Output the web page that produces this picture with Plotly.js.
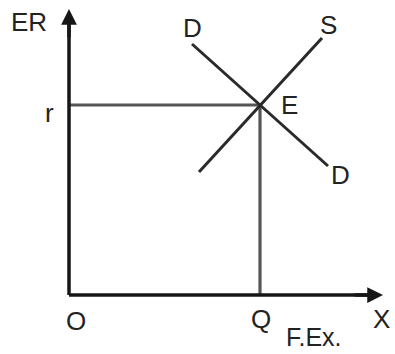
<!DOCTYPE html>
<html>
<head>
<meta charset="utf-8">
<script src="https://cdn.plot.ly/plotly-3.0.1.min.js"></script>
<style>
  html, body { margin: 0; padding: 0; background: #fff; }
  #tester { width: 395px; height: 354px; }
</style>
</head>
<body>
<div id="tester"></div>
<script>
// schematic units: origin O = (0,0)
let demandX = [123, 259];
let demandY = [251, 129];
let supplyX = [130, 253];
let supplyY = [123, 257];
let eqQ = 191;   // Q
let eqR = 190;   // r
let axisXEnd = 314;
let axisYEnd = 286;

let guideH = { x: [0, eqQ], y: [eqR, eqR] };
let guideV = { x: [eqQ, eqQ], y: [eqR, 0] };

let lineCol = "#2a2a2a";
let axisCol = "#161616";
let guideCol = "#555";
let txtFont = { family: "Liberation Sans, Arial, sans-serif", size: 26, color: "#222" };

var traces = [
    { x: guideH.x, y: guideH.y, mode: 'lines', line: { color: guideCol, width: 3.2 } },
    { x: guideV.x, y: guideV.y, mode: 'lines', line: { color: guideCol, width: 3.2 } },
    { x: demandX, y: demandY, mode: 'lines', line: { color: lineCol, width: 3 } },
    { x: supplyX, y: supplyY, mode: 'lines', line: { color: lineCol, width: 3 } },
    { x: [0, axisXEnd - 10], y: [0, 0], mode: 'lines', line: { color: axisCol, width: 3.5 } },
    { x: [0, 0], y: [0, axisYEnd - 10], mode: 'lines', line: { color: axisCol, width: 3.5 } }
];

function label(txt, x, y, size) {
    let f = Object.assign({}, txtFont);
    if (size) f.size = size;
    return { text: txt, x: x, y: y, xref: 'x', yref: 'y', showarrow: false, borderpad: 0, font: f };
}

function head(x, y, ax, ay) {
    return {
        x: x, y: y, ax: ax, ay: ay, xref: 'x', yref: 'y', axref: 'x', ayref: 'y',
        text: '', showarrow: true, arrowhead: 2, arrowsize: 0.9, arrowwidth: 3.5, arrowcolor: axisCol
    };
}

var layout = {
    width: 395,
    height: 354,
    margin: { l: 0, r: 0, t: 0, b: 0, pad: 0 },
    paper_bgcolor: '#fff',
    plot_bgcolor: '#fff',
    showlegend: false,
    xaxis: { range: [-69, 326], visible: false, fixedrange: true },
    yaxis: { range: [-59, 295], visible: false, fixedrange: true },
    annotations: [
        head(axisXEnd, 0, axisXEnd - 30, 0),
        head(0, axisYEnd, 0, axisYEnd - 30),
        label('ER', -40, 273),
        label('r', -20, 182),
        label('D', demandX[0], 267),
        label('D', 271, 120),
        label('S', 259, 270),
        label('E', eqQ + 29, eqR),
        label('O', 7, -26),
        label('Q', eqQ + 1, -24),
        label('X', 312, -24),
        label('F.Ex.', 245, -42, 25)
    ]
};

Plotly.newPlot('tester', traces, layout, { staticPlot: true });
</script>
</body>
</html>
